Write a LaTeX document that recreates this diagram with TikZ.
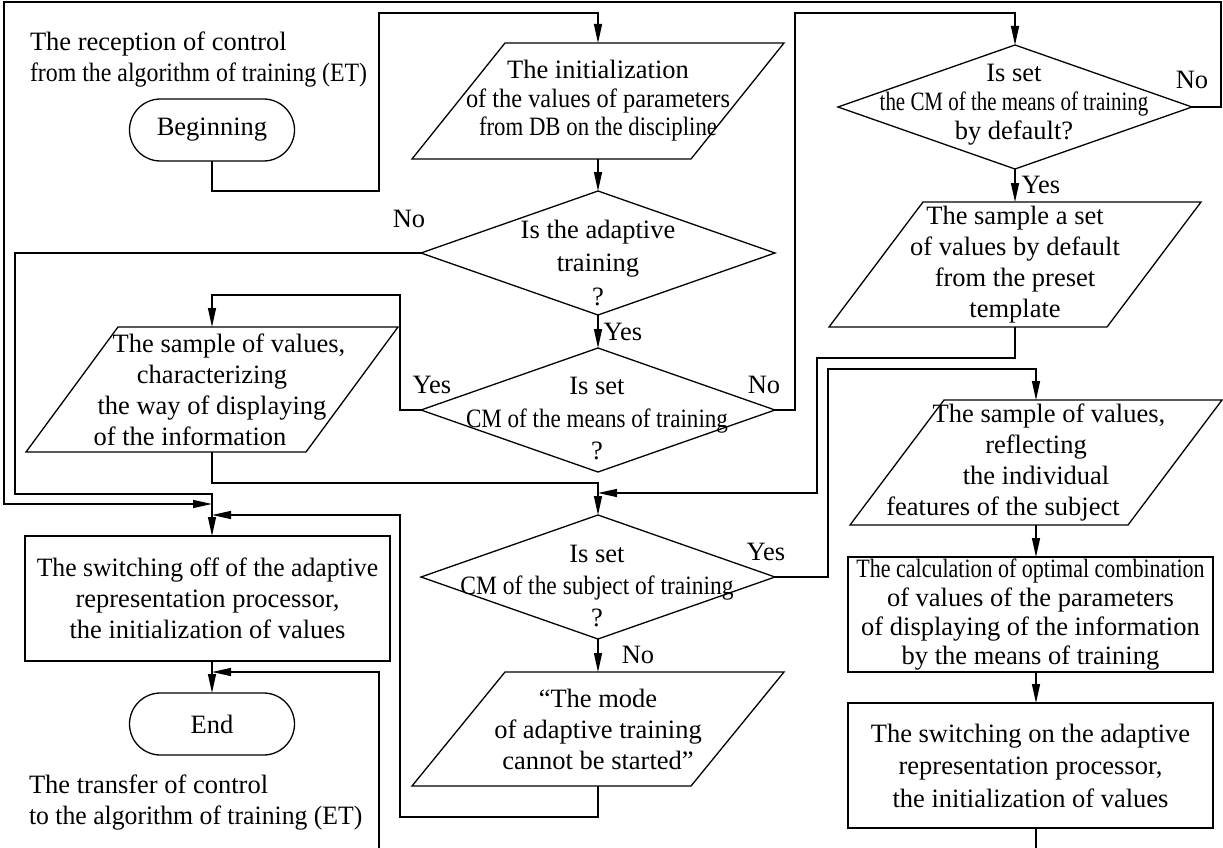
\documentclass[tikz,border=0pt]{standalone}
\usepackage{fontspec}
\setmainfont{Liberation Serif}
\usepackage{graphicx}
\usetikzlibrary{shapes.geometric,shapes.misc,arrows.meta}
\newcommand{\sx}[2]{\scalebox{#1}[1]{#2}}
\begin{document}
\begin{tikzpicture}[x=1pt,y=-1pt,
 every node/.style={inner sep=0pt, outer sep=0pt, font=\fontsize{26.5}{31}\selectfont},
 ln/.style={line width=1.3pt, line join=miter},
 arr/.style={ln, -{Triangle[length=19pt,width=8pt]}},
 term/.style={draw, ln, rounded rectangle, minimum width=165pt, minimum height=62pt},
 pbox/.style={align=center, minimum width=372pt},
 dia/.style={draw, ln, diamond, minimum width=354pt, minimum height=124pt},
 dtext/.style={align=center},
 rbox/.style={draw, ln, align=center, minimum width=365pt}
]
\useasboundingbox (0,0) rectangle (1223,848);

% texts and terminals
\node[align=left, anchor=west] (rec) at (30,59.8) {The reception of control\\\sx{0.90}{from the algorithm of training (ET)}};
\node[term] (beg) at (212,130) {Beginning};
\node[pbox, minimum height=116pt, font=\fontsize{26.5}{28.5}\selectfont] (p1) at (598,101) {The initialization\\\sx{0.92}{of the values of parameters}\\\sx{0.86}{from DB on the discipline}};

\node[dia] (d1) at (598,253) {};
\node[dtext, font=\fontsize{26.5}{33.5}\selectfont] (d1t) at (598,262.5) {Is the adaptive\\training\\?};
\node[dia] (d2) at (598,410) {};
\node[dtext, font=\fontsize{26.5}{32.5}\selectfont] (d2t) at (597,418.7) {Is set\\\sx{0.87}{CM of the means of training}\\?};
\node[dia] (d3) at (1015,107) {};
\node[dtext, font=\fontsize{26.5}{29}\selectfont] (d3t) at (1014,105) {Is set\\\sx{0.79}{the CM of the means of training}\\by default?};
\node[dia] (d4) at (598,577) {};
\node[dtext, font=\fontsize{26.5}{32}\selectfont] (d4t) at (597,586) {Is set\\\sx{0.886}{CM of the subject of training}\\?};

\node[pbox, minimum height=125pt] (p2) at (212,389.5) {\hspace*{34pt}The sample of values,\\characterizing\\the way of displaying\\of the information\hspace*{44pt}};
\node[pbox, minimum height=125pt] (p3) at (1015,264.5) {The sample a set\\of values by default\\from the preset\\template};
\node[pbox, minimum height=125pt] (p4) at (1036,462.5) {\hspace*{26pt}The sample of values,\\reflecting\hspace*{25pt}\\the individual\hspace*{26pt}\\features of the subject\hspace*{66pt}};
\node[pbox, minimum height=114pt] (p5) at (598,729) {“The mode\\of adaptive training\\cannot be started”};

\node[rbox, minimum height=115pt, font=\fontsize{26.5}{29}\selectfont] (b1) at (1030.5,614.5) {\sx{0.83}{The calculation of optimal combination}\\of values of the parameters\\of displaying of the information\\by the means of training};
\node[rbox, minimum height=125pt, font=\fontsize{26.5}{32.5}\selectfont] (b2) at (1030.5,765.5) {The switching on the adaptive\\representation processor,\\the initialization of values};
\node[rbox, minimum height=125pt] (b0) at (207.5,598.5) {\sx{0.97}{The switching off of the adaptive}\\representation processor,\\the initialization of values};
\node[term] (end) at (212,724) {End};
\node[align=left, anchor=west] (tra) at (29,803) {The transfer of control\\\sx{0.97}{to the algorithm of training (ET)}};

% parallelogram outlines
\foreach \n/\s in {p1/93,p2/92,p3/94,p4/94,p5/93}
  \draw[ln] ([xshift=\s pt]\n.north west) -- (\n.north east) -- ([xshift=-\s pt]\n.south east) -- (\n.south west) -- cycle;

% labels
\node (l1) at (409,219) {No};
\node (l2) at (623,332) {Yes};
\node (l3) at (432,385) {Yes};
\node (l4) at (764,385) {No};
\node (l5) at (1192,80) {No};
\node (l6) at (1041,185) {Yes};
\node (l7) at (766,552) {Yes};
\node (l8) at (638,655) {No};

% connectors
\coordinate (c1) at (212,191); \coordinate (c2) at (379,191); \coordinate (c3) at (379,13);
\draw[arr] (beg.south) -- (c1) -- (c2) -- (c3) -- (c3 -| p1.north) -- (p1.north);
\draw[arr] (p1.south) -- (d1.north);
\coordinate (n1) at (15,253); \coordinate (n2) at (15,494); \coordinate (j1) at (212,494);
\draw[arr] (d1.west) -- (n1) -- (n2) -- (j1) -- (j1 |- b0.north);
\draw[arr] (d1.south) -- (d2.north);
\coordinate (y1) at (400,410); \coordinate (y2) at (400,295);
\draw[arr] (d2.west) -- (y1) -- (y2) -- (y2 -| p2.north) -- (p2.north);
\coordinate (m1) at (795,410); \coordinate (m2) at (795,13);
\draw[arr] (d2.east) -- (m1) -- (m2) -- (m2 -| d3.north) -- (d3.north);
\coordinate (q1) at (212,483);
\draw[arr] (p2.south) -- (q1) -- (q1 -| d4.north) -- (d4.north);
\coordinate (f1) at (1221,107); \coordinate (f2) at (1221,2); \coordinate (f3) at (4,2); \coordinate (f4) at (4,504); \coordinate (j2) at (212,504);
\draw[arr] (d3.east) -- (f1) -- (f2) -- (f3) -- (f4) -- (j2);
\draw[arr] (d3.south) -- (p3.north);
\coordinate (g1) at (1015,358); \coordinate (g2) at (817,358); \coordinate (g3) at (817,493); \coordinate (j3) at (598,493);
\draw[arr] (p3.south) -- (g1) -- (g2) -- (g3) -- (j3);
\coordinate (h1) at (828,577); \coordinate (h2) at (828,369);
\draw[arr] (d4.east) -- (h1) -- (h2) -- (h2 -| p4.north) -- (p4.north);
\draw[arr] (d4.south) -- (p5.north);
\coordinate (k1) at (598,817); \coordinate (k2) at (400,817); \coordinate (k3) at (400,515); \coordinate (j4) at (212,515);
\draw[arr] (p5.south) -- (k1) -- (k2) -- (k3) -- (j4);
\draw[arr] (p4.south) -- (p4.south |- b1.north);
\coordinate (b1s) at (b1.south -| p4.south);
\draw[arr] (b1s) -- (b1s |- b2.north);
\coordinate (e1) at (1036,848);
\draw[ln] (b2.south -| e1) -- (e1);
\draw[arr] (b0.south -| end.north) -- (end.north);
\coordinate (e2) at (379,848); \coordinate (e3) at (379,672); \coordinate (j5) at (212,672);
\draw[arr] (e2) -- (e3) -- (j5);
\end{tikzpicture}
\end{document}
